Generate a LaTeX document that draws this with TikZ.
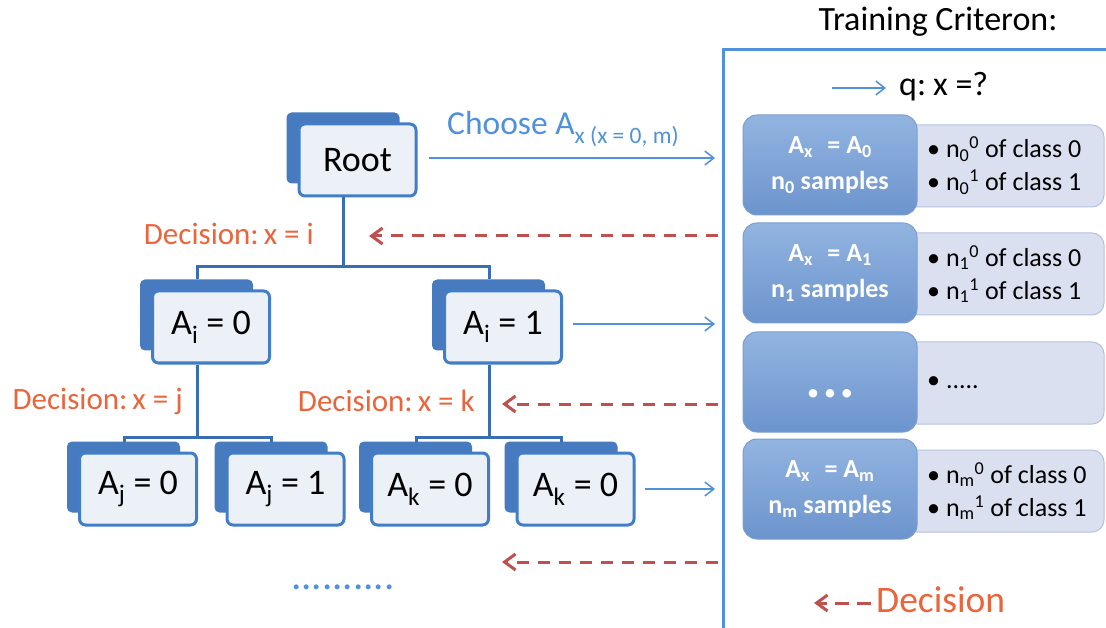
\documentclass[tikz,border=0pt]{standalone}
\usepackage{fontspec}
\setmainfont{Carlito}
\usetikzlibrary{arrows.meta,backgrounds,calc}

\definecolor{nodeblue}{RGB}{66,126,200}
\definecolor{backblue}{RGB}{72,122,192}
\definecolor{nodefill}{RGB}{236,241,248}
\definecolor{linkblue}{RGB}{58,110,178}
\definecolor{skyblue}{RGB}{79,145,218}
\definecolor{decorange}{RGB}{234,100,60}
\definecolor{decred}{RGB}{192,80,77}
\definecolor{attrtop}{RGB}{146,180,224}
\definecolor{attrbot}{RGB}{108,148,205}
\definecolor{attrline}{RGB}{122,158,210}
\definecolor{countfill}{RGB}{218,224,240}
\definecolor{countline}{RGB}{182,194,224}

% a tree node: framed front card with a darker card peeking out behind it
\newcommand\treenode[3]{%
  \node[treebox] (#1) at (#2) {#3};
  \coordinate (#1-up) at ([xshift=-14pt,yshift=10pt]#1.north);
  \coordinate (#1-down) at ([xshift=-14pt]#1.south);
  \begin{scope}[on background layer]
    \fill[backblue, rounded corners=5pt]
      ([xshift=-11pt,yshift=10pt]#1.north west) rectangle
      ([xshift=-18pt,yshift=14pt]#1.south east);
  \end{scope}}

\begin{document}
\begin{tikzpicture}[x=1pt,y=-1pt,
  treebox/.style={draw=nodeblue, line width=3pt, fill=nodefill,
    rounded corners=6pt, minimum width=117pt, minimum height=72pt,
    inner sep=0pt, font=\fontsize{36}{42}\selectfont},
  link/.style={draw=linkblue, line width=3pt},
  pick/.style={draw=skyblue, line width=1.5pt,
    -{Straight Barb[length=9pt,width=14pt]}},
  goback/.style={draw=decred, line width=3pt, dash pattern=on 12pt off 9pt,
    -{Straight Barb[length=11pt,width=16pt]}},
  declabel/.style={text=decorange, font=\fontsize{31}{36}\selectfont,
    inner sep=0pt},
  attrbox/.style={rounded corners=14pt, top color=attrtop,
    bottom color=attrbot, draw=attrline, line width=1pt,
    minimum width=174pt, minimum height=100pt, inner sep=0pt,
    text=white, align=center,
    font=\bfseries\fontsize{26}{36}\selectfont},
  countbox/.style={rounded corners=12pt, fill=countfill, draw=countline,
    line width=1pt, minimum width=199pt, minimum height=82pt},
  counttext/.style={anchor=west, align=left, inner sep=0pt,
    font=\fontsize{26}{33}\selectfont},
]
\useasboundingbox (0,0) rectangle (1106,628);
\begin{scope}[on background layer]
  \fill[white] (0,0) rectangle (1106,628);
\end{scope}

% ---------------- decision tree ----------------
\treenode{root}{357.5,160}{Root}
\treenode{ai0}{211,327}{A\textsubscript{i} = 0}
\treenode{ai1}{503,327}{A\textsubscript{i} = 1}
\treenode{aj0}{138,489}{A\textsubscript{j} = 0}
\treenode{aj1}{285.5,489}{A\textsubscript{j} = 1}
\treenode{ak0}{430,489}{A\textsubscript{k} = 0}
\treenode{ak1}{575.5,489}{A\textsubscript{k} = 0}

\coordinate (lvl1) at (0,267);
\coordinate (lvl2) at (0,437);
\draw[link] (root-down) -- (root-down |- lvl1);
\draw[link] (ai0-up) |- (ai1-up |- lvl1) -- (ai1-up);
\draw[link] (ai0-down) -- (ai0-down |- lvl2);
\draw[link] (aj0-up) |- (aj1-up |- lvl2) -- (aj1-up);
\draw[link] (ai1-down) -- (ai1-down |- lvl2);
\draw[link] (ak0-up) |- (ak1-up |- lvl2) -- (ak1-up);

\node[declabel, anchor=east] (deci) at (314,234) {Decision:\hspace{5pt}x = i};
\node[declabel, anchor=east] (decj) at (183,401) {Decision:\hspace{5pt}x = j};
\node[declabel, anchor=east] (deck) at (475,401) {Decision:\hspace{5pt}x = k};

\node[text=skyblue, anchor=base west, inner sep=0pt,
  font=\fontsize{41}{41}\selectfont] (more) at (291,589) {..........};

% ---------------- training criterion panel ----------------
\node[font=\fontsize{34}{40}\selectfont] (title) at (938,22) {Training Criteron:};
\coordinate (pl) at (723,0);
\draw[skyblue, line width=3pt] (1106,50) -- (723,50) -- (723,628);

\coordinate (qfrom) at (832,88);
\coordinate (qto) at (886,88);
\draw[pick] (qfrom) -- (qto);
\node[anchor=west, inner sep=0pt, font=\fontsize{34}{40}\selectfont]
  (query) at (899,87) {q:\hspace{7pt}x =?};

% rows of the panel
\node[countbox] (c0) at (1004.5,166) {};
\node[countbox] (c1) at (1004.5,274) {};
\node[countbox] (c2) at (1004.5,383) {};
\node[countbox] (c3) at (1004.5,491) {};

\node[attrbox] (a0) at (830,165) {A\textsubscript{x}\,\, = A\textsubscript{0}\\n\textsubscript{0} samples};
\node[attrbox] (a1) at (830,273) {A\textsubscript{x}\,\, = A\textsubscript{1}\\n\textsubscript{1} samples};
\node[attrbox, font=\mdseries\fontsize{24}{36}\selectfont] (a2) at (830,382)
  {\mbox{}\\\textbullet\hspace{5pt}\textbullet\hspace{5pt}\textbullet};
\node[attrbox] (a3) at (830,489) {A\textsubscript{x}\,\, = A\textsubscript{m}\\n\textsubscript{m} samples};

\node[counttext] (t0) at (927,166) {\textbullet\ n\textsubscript{0}\textsuperscript{0} of class 0\\\textbullet\ n\textsubscript{0}\textsuperscript{1} of class 1};
\node[counttext] (t1) at (927,274) {\textbullet\ n\textsubscript{1}\textsuperscript{0} of class 0\\\textbullet\ n\textsubscript{1}\textsuperscript{1} of class 1};
\node[counttext] (t2) at (927,383) {\textbullet\ .....};
\node[counttext] (t3) at (927,491) {\textbullet\ n\textsubscript{m}\textsuperscript{0} of class 0\\\textbullet\ n\textsubscript{m}\textsuperscript{1} of class 1};

% legend for the dashed arrows
\coordinate (lgfrom) at (871,603);
\coordinate (lgto) at (814,603);
\draw[goback, dash pattern=on 14pt off 8pt] (lgfrom) -- (lgto);
\node[anchor=west, inner sep=0pt, text=decorange,
  font=\fontsize{37.5}{42}\selectfont] (legend) at (876,600) {Decision};

% ---------------- connections between tree and panel ----------------
\node[text=skyblue, anchor=west, inner sep=0pt,
  font=\fontsize{33.5}{38}\selectfont] (choose) at (447,129)
  {Choose A\textsubscript{x (x = 0, m)}};
\draw[pick] ([xshift=11pt,yshift=2pt]root.east) -- ([xshift=-8pt,yshift=2pt]root.east -| pl);
\draw[pick] ([xshift=10pt,yshift=3pt]ai1.east) -- ([xshift=-8pt,yshift=3pt]ai1.east -| pl);
\draw[pick] ([xshift=9pt]ak1.east) -- ([xshift=-8pt]ak1.east -| pl);

\coordinate (r1from) at (718,236);
\coordinate (r1to) at (369,236);
\coordinate (r2from) at (718,404);
\coordinate (r2to) at (502,404);
\coordinate (r3from) at (718,562);
\coordinate (r3to) at (502,562);
\draw[goback] (r1from) -- (r1to);
\draw[goback] (r2from) -- (r2to);
\draw[goback] (r3from) -- (r3to);
\end{tikzpicture}
\end{document}
